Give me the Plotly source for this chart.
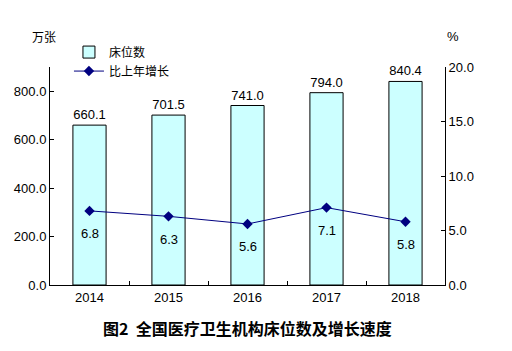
import plotly.graph_objects as go

years = ["2014", "2015", "2016", "2017", "2018"]
beds = [660.1, 701.5, 741.0, 794.0, 840.4]
growth = [6.8, 6.3, 5.6, 7.1, 5.8]
bar_name = "床位数"
line_name = "比上年增长"
title = "图2  全国医疗卫生机构床位数及增长速度"

num_font = dict(family="Liberation Sans, Arial", size=13, color="#000000")
cjk = "Noto Sans CJK SC"

fig = go.Figure()
fig.add_trace(go.Bar(
    x=years, y=beds, name=bar_name, width=0.42,
    marker=dict(color="#CCFFFF", line=dict(color="#000000", width=1)),
    text=[f"{v:.1f}" for v in beds], textposition="outside",
    textfont=num_font, cliponaxis=False,
))
fig.add_trace(go.Scatter(
    x=years, y=growth, name=line_name, yaxis="y2", mode="lines+markers",
    line=dict(color="#000080", width=1),
    marker=dict(symbol="diamond", size=8, color="#000080"),
))
for i, g in enumerate(growth):
    fig.add_annotation(x=i, y=g, xref="x", yref="y2", text=f"{g:.1f}", showarrow=False,
                       yshift=-23, font=num_font)

fig.add_annotation(xref="paper", yref="paper", x=-0.015, y=1.138, xanchor="center",
                   yanchor="middle", text="万张", showarrow=False,
                   font=dict(family=cjk, size=12, color="#000000"))
fig.add_annotation(xref="paper", yref="paper", x=1.02, y=1.138, xanchor="center",
                   yanchor="middle", text="%", showarrow=False, font=num_font)
fig.add_annotation(xref="paper", yref="paper", x=0.5, y=-0.195, xanchor="center",
                   yanchor="middle", text="<b>" + title + "</b>", showarrow=False,
                   font=dict(family=cjk, size=16, color="#000000"))

fig.update_layout(
    width=512, height=351,
    margin=dict(l=50, r=67, t=67, b=66),
    paper_bgcolor="white", plot_bgcolor="white",
    showlegend=True,
    legend=dict(x=0.048, y=1.135, xanchor="left", yanchor="top",
                font=dict(family=cjk, size=12, color="#000000"),
                bgcolor="rgba(0,0,0,0)", tracegroupgap=0, itemwidth=30),
    xaxis=dict(type="category", range=[-0.5, 4.5], autorange=False,
               showline=True, linecolor="#000000", linewidth=1,
               tickfont=num_font, ticks="inside", tickson="boundaries",
               ticklen=4, tickcolor="#000000", showgrid=False),
    yaxis=dict(range=[0, 900], tickvals=[0, 200, 400, 600, 800],
               tickformat=".1f", showline=True, linecolor="#000000",
               ticks="inside", ticklen=4, tickcolor="#000000",
               showgrid=False, zeroline=False, tickfont=num_font),
    yaxis2=dict(range=[0, 20], tickvals=[0, 5, 10, 15, 20], tickformat=".1f",
                overlaying="y", side="right", showline=True,
                linecolor="#000000", ticks="inside", ticklen=4,
                tickcolor="#000000", showgrid=False, zeroline=False,
                tickfont=num_font),
)
fig.write_html("out.html")
